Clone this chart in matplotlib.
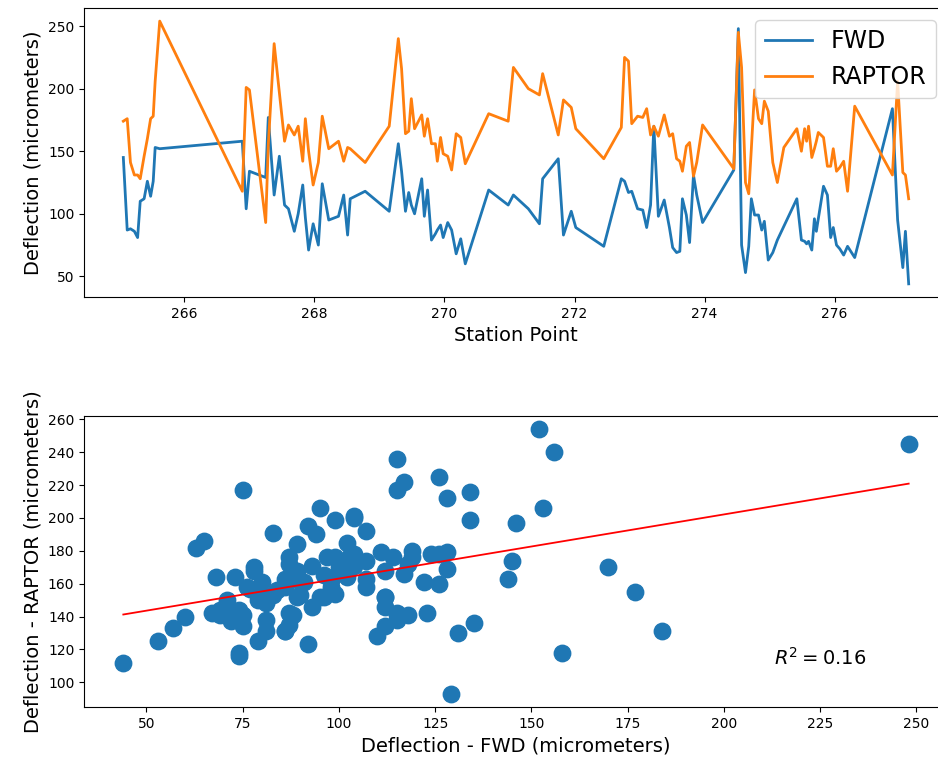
import numpy as np
import matplotlib.pyplot as plt
from matplotlib.ticker import MultipleLocator

# station points and deflections
station = [265.06, 265.12, 265.17, 265.23, 265.28, 265.32, 265.38, 265.43, 265.48, 265.52, 265.55, 265.62,
           266.89, 266.95, 267.00, 267.25, 267.29, 267.38, 267.46, 267.54, 267.60, 267.69, 267.75, 267.82,
           267.86, 267.91, 267.98, 268.06, 268.12, 268.22, 268.37, 268.45, 268.51, 268.55, 268.78, 269.15,
           269.29, 269.34, 269.40, 269.45, 269.49, 269.54, 269.65, 269.69, 269.74, 269.80, 269.86, 269.89,
           269.94, 269.98, 270.05, 270.11, 270.18, 270.25, 270.32, 270.68, 270.98, 271.06, 271.29,
           271.46, 271.51, 271.75, 271.83, 271.95, 272.02, 272.45, 272.72, 272.77, 272.83, 272.88, 272.97,
           273.05, 273.11, 273.17, 273.22, 273.29, 273.38,
           273.46, 273.51, 273.57, 273.62, 273.66, 273.72, 273.77, 273.83, 273.88, 273.97, 274.45, 274.52,
           274.57, 274.63, 274.68, 274.72, 274.77, 274.83, 274.88, 274.92, 274.98, 275.05, 275.12, 275.22,
           275.42, 275.49,
           275.54, 275.57, 275.60, 275.65, 275.69, 275.72, 275.75, 275.83, 275.89, 275.94, 275.98, 276.03,
           276.08, 276.14, 276.20, 276.31, 276.89, 276.97, 277.05, 277.09, 277.14]

fwd = [145, 87, 88, 86, 81, 110, 112, 126, 114, 126, 153, 152,
       158, 104, 134, 129, 177, 115, 146, 107, 104, 86, 100, 123,
       97, 71, 92, 75, 124, 95, 98, 115, 83, 112, 118, 102,
       156, 134, 102, 117, 107, 100, 128, 98, 119, 79, 84, 87,
       91, 81, 93, 87, 68, 80, 60, 119, 107, 115, 104,
       92, 128, 144, 83, 102, 89, 74, 128, 126, 117, 118, 104,
       103, 89, 107, 170, 98, 111,
       89, 73, 69, 70, 112, 99, 77, 131, 115, 93, 135, 248,
       75, 53, 74, 112, 99, 99, 87, 94, 63, 69, 79, 90,
       112, 79,
       78, 76, 78, 71, 96, 86, 96, 122, 115, 81, 89, 75,
       72, 67, 74, 65, 184, 95, 57, 86, 44]

raptor = [174, 176, 141, 131, 131, 128, 146, 160, 176, 178, 206, 254,
          118, 201, 199, 93, 155, 236, 197, 158, 171, 163, 170, 142,
          176, 150, 123, 141, 178, 152, 158, 142, 153, 152, 141, 170,
          240, 216, 164, 166, 192, 168, 179, 162, 176, 156, 156, 142,
          161, 148, 146, 135, 164, 161, 140, 180, 174, 217, 200,
          195, 212, 163, 191, 185, 168, 144, 169, 225, 222, 172, 178,
          177, 184, 163, 170, 162, 179,
          162, 164, 144, 142, 134, 154, 157, 130, 141, 171, 136, 245,
          217, 125, 116, 152, 199, 176, 172, 190, 182, 141, 125, 153,
          168, 150,
          168, 158, 170, 145, 152, 158, 165, 161, 138, 138, 152, 134,
          137, 142, 118, 186, 131, 206, 133, 131, 112]

fwd = np.array(fwd, dtype=float)
raptor = np.array(raptor, dtype=float)

fig = plt.figure(figsize=(9.38, 7.67), dpi=100)
# the reference is cropped on the right, so the axes run past the figure edge
ax1 = fig.add_axes([0.0896, 0.6128, 0.921, 0.3768])
ax2 = fig.add_axes([0.0896, 0.0782, 0.921, 0.3794])

ax1.plot(station, fwd, color='#1f77b4', linewidth=2, label='FWD')
ax1.plot(station, raptor, color='#ff7f0e', linewidth=2, label='RAPTOR')
ax1.set_xlabel('Station Point', fontsize=14)
ax1.set_ylabel('Deflection (micrometers)', fontsize=14)
ax1.tick_params(labelsize=10)
ax1.legend(loc='upper right', fontsize=17)

# scatter with linear fit
slope, intercept = np.polyfit(fwd, raptor, 1)
pred = slope * fwd + intercept
r2 = 1 - np.sum((raptor - pred) ** 2) / np.sum((raptor - raptor.mean()) ** 2)

ax2.scatter(fwd, raptor, s=140, color='#1f77b4')
xs = np.array([fwd.min(), fwd.max()])
ax2.plot(xs, slope * xs + intercept, color='red', linewidth=1.3)
ax2.text(213, 115, '$R^2 = %.2f$' % r2, fontsize=14, va='center')
ax2.set_xlabel('Deflection - FWD (micrometers)', fontsize=14)
ax2.set_ylabel('Deflection - RAPTOR (micrometers)', fontsize=14)
ax2.xaxis.set_major_locator(MultipleLocator(25))
ax2.yaxis.set_major_locator(MultipleLocator(20))
ax2.tick_params(labelsize=10)

fig.savefig('out.png', dpi=100)
